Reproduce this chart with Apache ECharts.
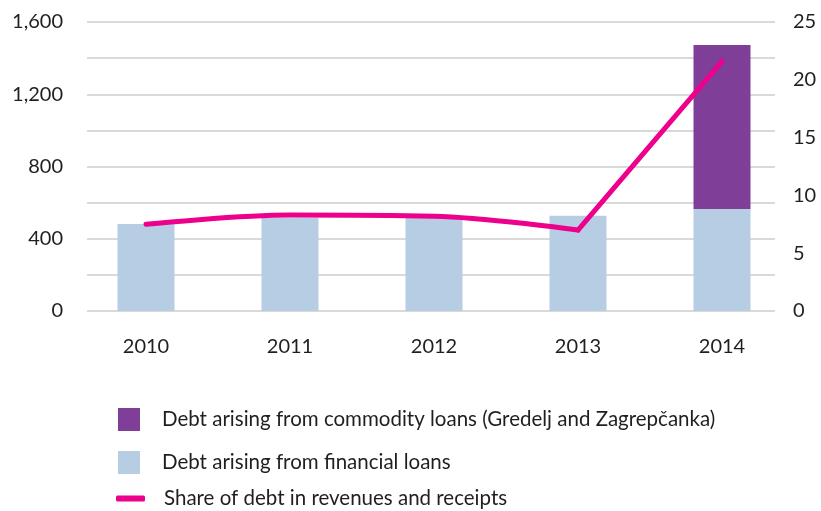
<!DOCTYPE html>
<html>
<head>
<meta charset="utf-8">
<script src="https://cdn.jsdelivr.net/npm/echarts@6/dist/echarts.min.js"></script>
<style>html,body{margin:0;padding:0;background:#fff}#c{width:821px;height:511px}</style>
</head>
<body>
<div id="c"></div>
<script>
var categories = ['2010', '2011', '2012', '2013', '2014'];
var financialLoans = [482, 516, 515, 527, 565];
var commodityLoans = [0, 0, 0, 0, 908];
var debtShare = [7.5, 8.3, 8.2, 7.0, 21.6];
var nameCommodity = 'Debt arising from commodity loans (Gredelj and Zagrepčanka)';
var nameFinancial = 'Debt arising from financial loans';
var nameShare = 'Share of debt in revenues and receipts';

// the reference curve is smooth over 2010-2013 and straight from 2013 to 2014
var shareSmooth = debtShare.map(function (v, i) { return i <= 3 ? v : '-'; });
var shareStraight = debtShare.map(function (v, i) { return i >= 3 ? v : '-'; });

var FONT = 'Lato';
var TXT = '#1f1f1f';
var lineStyle = {color: '#ec008c', width: 5, cap: 'round', join: 'round'};
var chart = echarts.init(document.getElementById('c'), null, {renderer: 'canvas'});
chart.setOption({
  animation: false,
  textStyle: {fontFamily: FONT},
  grid: [
    {left: 87, right: 46, top: 22, bottom: 200},
    {left: 74, right: 27, top: 22, bottom: 200}
  ],
  xAxis: [
    {gridIndex: 0, type: 'category', data: categories, show: false},
    {gridIndex: 1, type: 'category', data: categories,
     axisLine: {show: false}, axisTick: {show: false},
     axisLabel: {color: TXT, fontSize: 20, margin: 26, fontFamily: FONT}}
  ],
  yAxis: [
    {gridIndex: 0, type: 'value', min: 0, max: 1600, interval: 200, position: 'left',
     axisLine: {show: false}, axisTick: {show: false},
     splitLine: {lineStyle: {color: '#d9d9d9', width: 2}},
     axisLabel: {color: TXT, fontSize: 20, margin: 24, fontFamily: FONT,
       formatter: function (v) { return v % 400 === 0 ? v.toLocaleString('en-US') : ''; }}},
    {gridIndex: 0, type: 'value', min: 0, max: 25, interval: 5, position: 'right',
     axisLine: {show: false}, axisTick: {show: false}, splitLine: {show: false},
     axisLabel: {color: TXT, fontSize: 20, margin: 18, fontFamily: FONT}},
    {gridIndex: 1, type: 'value', min: 0, max: 1600, show: false},
    {gridIndex: 1, type: 'value', min: 0, max: 25, show: false}
  ],
  legend: [
    {left: 118, top: 408, padding: 0, itemWidth: 22, itemHeight: 23, icon: 'rect',
     data: [nameCommodity], textStyle: {color: TXT, fontSize: 20.5, fontFamily: FONT, padding: [0, 0, 0, 17]}},
    {left: 118, top: 451, padding: 0, itemWidth: 22, itemHeight: 23, icon: 'rect',
     data: [nameFinancial], textStyle: {color: TXT, fontSize: 20.5, fontFamily: FONT, padding: [0, 0, 0, 17]}},
    {left: 116, top: 488, padding: 0, itemWidth: 29, itemHeight: 6, icon: 'roundRect',
     data: [nameShare], textStyle: {color: TXT, fontSize: 20.5, fontFamily: FONT, padding: [0, 0, 0, 14]}}
  ],
  series: [
    {name: nameFinancial, type: 'bar', stack: 'debt', xAxisIndex: 1, yAxisIndex: 2,
     barWidth: 57, data: financialLoans, itemStyle: {color: '#b7cde3'}},
    {name: nameCommodity, type: 'bar', stack: 'debt', xAxisIndex: 1, yAxisIndex: 2,
     barWidth: 57, data: commodityLoans, itemStyle: {color: '#7f3f98'}},
    {name: nameShare, type: 'line', xAxisIndex: 1, yAxisIndex: 3, data: shareSmooth,
     smooth: 0.35, symbol: 'none', z: 5, lineStyle: lineStyle, itemStyle: {color: '#ec008c'}},
    {name: nameShare, type: 'line', xAxisIndex: 1, yAxisIndex: 3, data: shareStraight,
     smooth: false, symbol: 'none', z: 5, lineStyle: lineStyle, itemStyle: {color: '#ec008c'}}
  ]
});
</script>
</body>
</html>
